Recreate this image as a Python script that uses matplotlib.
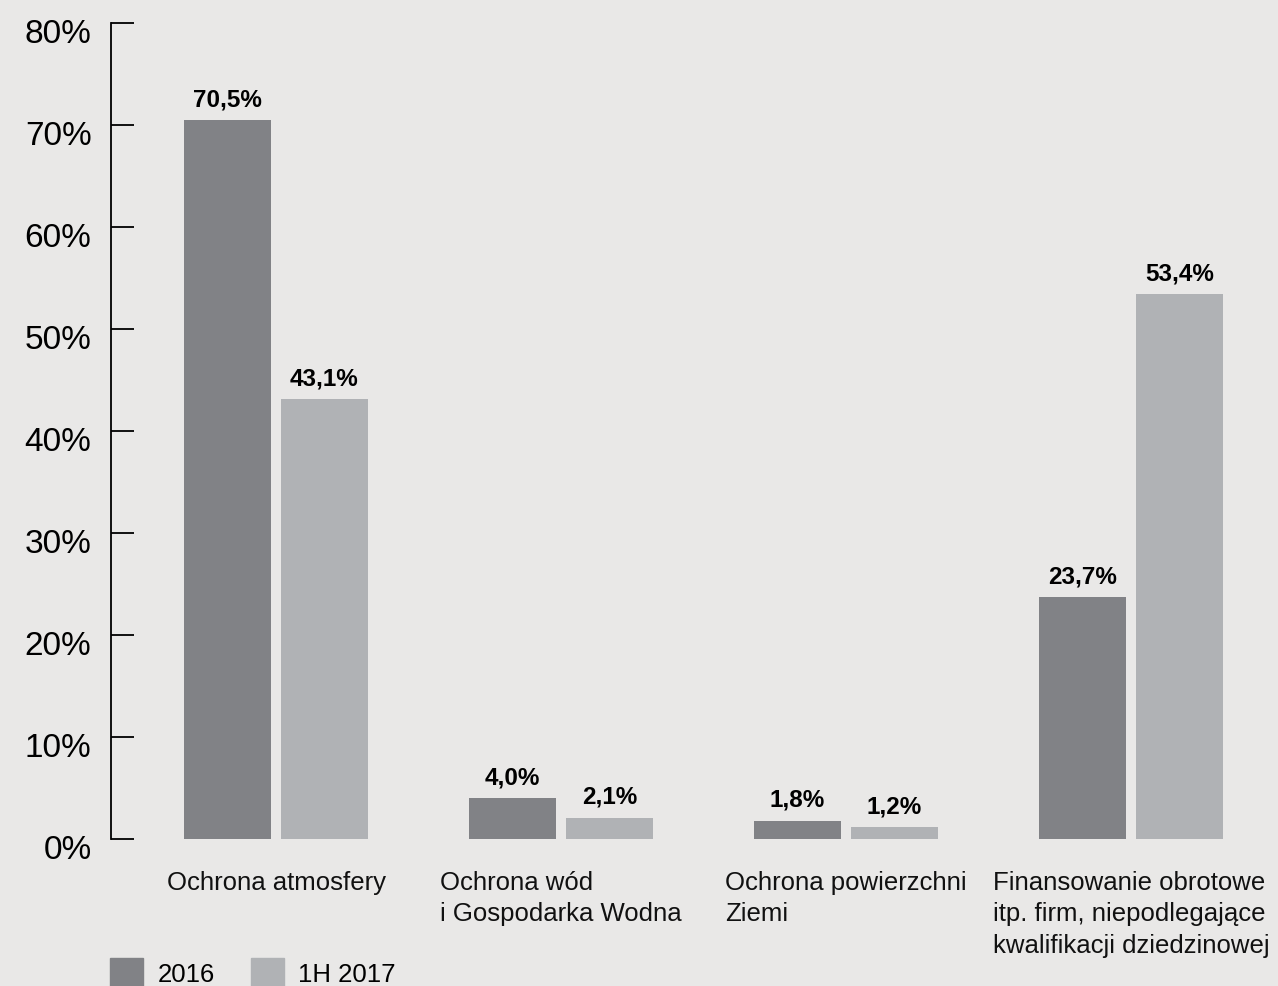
import matplotlib
matplotlib.use("Agg")
import matplotlib.pyplot as plt
import matplotlib.transforms as mtransforms
from matplotlib.patches import Patch
import numpy as np

# values
categories = ["Ochrona atmosfery",
              "Ochrona wód\ni Gospodarka Wodna",
              "Ochrona powierzchni\nZiemi",
              "Finansowanie obrotowe\nitp. firm, niepodlegające\nkwalifikacji dziedzinowej"]
values_2016 = [70.5, 4.0, 1.8, 23.7]
values_1h2017 = [43.1, 2.1, 1.2, 53.4]
labels_2016 = ["70,5%", "4,0%", "1,8%", "23,7%"]
labels_1h2017 = ["43,1%", "2,1%", "1,2%", "53,4%"]
series_names = ["2016", "1H 2017"]
yticks = [0, 10, 20, 30, 40, 50, 60, 70, 80]

dark = "#818286"
light = "#b0b2b5"
bg = "#e9e8e7"

plt.rcParams['font.family'] = ['Liberation Sans', 'DejaVu Sans']

fig = plt.figure(figsize=(12.78, 9.87), dpi=100)
fig.patch.set_facecolor(bg)
ax = fig.add_axes([111 / 1278, 147 / 987, 1167 / 1278, 816 / 987])
ax.set_facecolor("none")

x = np.arange(len(categories))
w = 0.305
off = 0.17
b1 = ax.bar(x - off, values_2016, w, color=dark)
b2 = ax.bar(x + off, values_1h2017, w, color=light)

for bars, labs in ((b1, labels_2016), (b2, labels_1h2017)):
    for rect, lab in zip(bars, labs):
        ax.annotate(lab, (rect.get_x() + rect.get_width() / 2, rect.get_height()),
                    xytext=(0, 7), textcoords="offset points", ha="center", va="bottom",
                    fontsize=17.5, fontweight="bold", color="black")

for xi, cat in zip(x, categories):
    ax.annotate(cat, (xi, 0), xytext=(0, -22), textcoords="offset points",
                ha="center", va="top", multialignment="left",
                fontsize=18.5, linespacing=1.4, color="#111111")

ax.set_xlim(-0.579, 3.516)
ax.set_ylim(0, 80)
ax.set_yticks(yticks)
ax.set_yticklabels([f"{t}%" for t in yticks])
ax.set_xticks([])
for s in ("top", "right", "bottom"):
    ax.spines[s].set_visible(False)
ax.spines["left"].set_linewidth(1.3)
ax.tick_params(axis="y", direction="in", length=16.5, width=1.3, pad=14,
               labelsize=24, colors="black")
shift = mtransforms.ScaledTranslation(0, -7 / 100, fig.dpi_scale_trans)
for lab in ax.get_yticklabels():
    lab.set_transform(lab.get_transform() + shift)

handles = [Patch(color=dark), Patch(color=light)]
ax.legend(handles, series_names, loc="upper left",
          bbox_to_anchor=(110 / 1278, 1 - 959 / 987), bbox_transform=fig.transFigure,
          ncol=2, frameon=False, fontsize=18.5, handlelength=1.3, handleheight=1.3,
          handletextpad=0.55, columnspacing=1.4, borderpad=0, borderaxespad=0)

fig.savefig("out.png", dpi=100, facecolor=bg)
